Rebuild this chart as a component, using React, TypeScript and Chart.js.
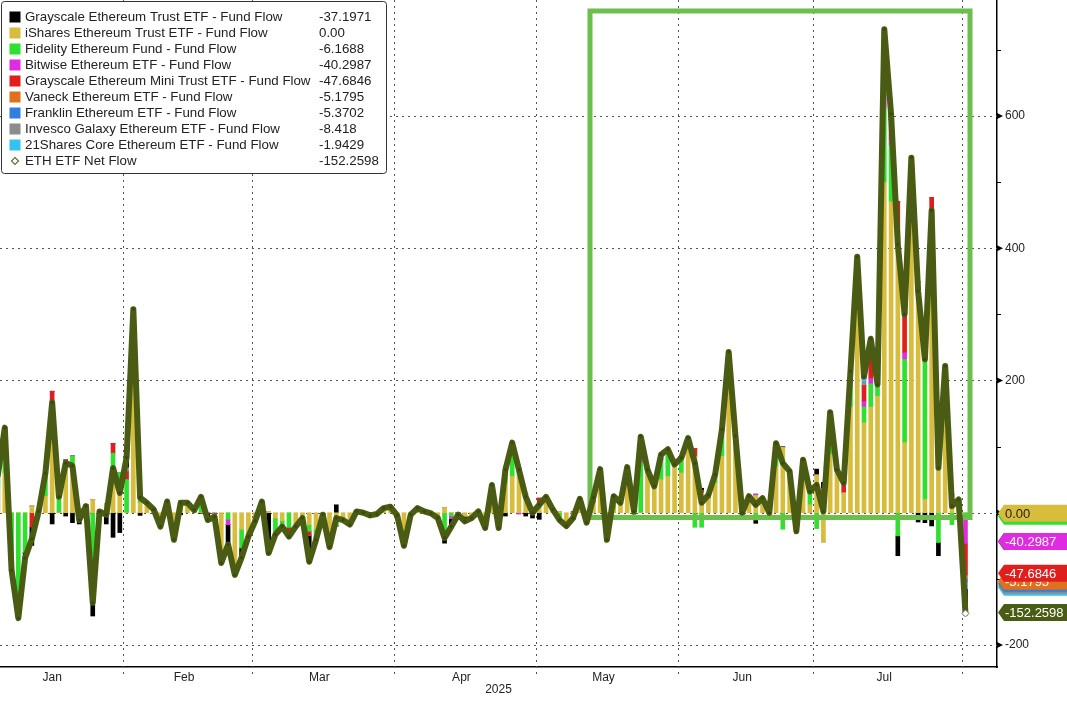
import React, { useEffect, useRef } from "react";
import { Chart, registerables } from "chart.js";

Chart.register(...registerables);
Chart.defaults.font.family = "'Liberation Sans', Arial, sans-serif";

// ---- Trading days (Jan 2, 2025 = day 0; series start on Jan 3 = day 1) ----
const janDays = [2, 3, 6, 7, 8, 10, 13, 14, 15, 16, 17, 21, 22, 23, 24, 27, 28, 29, 30, 31];
const febDays = [3, 4, 5, 6, 7, 10, 11, 12, 13, 14, 18, 19, 20, 21, 24, 25, 26, 27, 28];
const marDays = [3, 4, 5, 6, 7, 10, 11, 12, 13, 14, 17, 18, 19, 20, 21, 24, 25, 26, 27, 28, 31];
const aprDays = [1, 2, 3, 4, 7, 8, 9, 10, 11, 14, 15, 16, 17, 21, 22, 23, 24, 25, 28, 29, 30];
const mayDays = [1, 2, 5, 6, 7, 8, 9, 12, 13, 14, 15, 16, 19, 20, 21, 22, 23, 27, 28, 29, 30];
const junDays = [2, 3, 4, 5, 6, 9, 10, 11, 12, 13, 16, 17, 18, 20, 23, 24, 25, 26, 27, 30];
const julDays = [1, 2, 3, 7, 8, 9, 10, 11, 14, 15, 16, 17, 18, 21, 22, 23, 24, 25, 28, 29, 30, 31];
const augDays = [1];
const monthNames = ["Jan", "Feb", "Mar", "Apr", "May", "Jun", "Jul", "Aug"];
const monthDayLists = [janDays, febDays, marDays, aprDays, mayDays, junDays, julDays, augDays];
const yearLabel = "2025";
const yTickValues = [-200, 0, 200, 400, 600];
const yMinorTickValues = [-100, 100, 300, 500, 700];

// ---- Fund flows, US$ m, Jan 3 .. Aug 1 ----
const ethaFlow = [
  40, 60, 0, 0, 0, 10, 2, 25, 110, 0, 70, 70, 6, 12, 20, 0, 14, 60, 50,
  0, 276.2, 15, 15, 5, -15, 12, -20, 18, 15, 4, 0, 0, 0, -55, 0, -85, -25, -36,
  -13, 2, 2, -8, -12, 0, -21, -8, -18, -25, -3, -40, -12, -11, -10, 2, 0, -4, -2, 7, 9,
  -4, -25, -3, 7, 2, -1, -8, 8, 0, 0, -5, -8, 0, -10, 12, -13, 45, 55, 62, 29, 8,
  12, 20, 5, 2, -20, -10, 16, -10, 15, 50, 0, 6, 15, 69, 12, 0, 60, 40, 50, 55, 73,
  60, 113, 85, 30, 22, 45, 85, 200, 110, 8, 25, 26, 22, 6, 70, 99, 63, -12, 80, 12,
  57, -44, 88, 65, 30, 160, 308, 136, 160, 176, 499.2, 470, 400, 106, 448, 349, 20, 456, 133, 220, 28, 5,
  0,
];
const fethFlow = [
  14.9, 45, -80, -147.7, -60, 0, 0, 34.8, 50, 24, 0, 16, 0, 0, -70, 2, 0, 30, 10,
  50, 21, 12, 0, 0, 0, 5, -15, 0, 0, 0, 25, 0, 0, 0, -10, -9, -28, 0,
  0, 0, 0, -25, -9, -22, 0, 0, -10, -16, 0, -12, -8, 0, -8, 0, 0, 0, 0, 0, 0,
  0, -10, 0, 0, 0, 0, 0, -40, -5, 0, 0, 0, 0, -13, 30, 0, 13, 40, 5, 0, 0,
  0, 0, 0, -13, 0, 0, 0, 0, 0, 16, -15, 19, 0, 0, -10, 76, 5, 0, 30, 35, 0,
  23, 0, -22, -22, 0, 13, 30, 35, 6, 0, 0, -11, 0, 0, 35, -25, 0, 0, 0, 20,
  -24, 20, 45, 0, 0, 31, 60, 24, 35, 18, 113.3, 85, -35, 126, 89, 0, 210, 0, -45, 0, -18, 5,
  -6.1688,
];
const ethwFlow = [
  0, 8, 0, 0, 0, 0, 0, 0, 8, 0, 0, 0, 0, 0, 0, 0, 0, 0, 0,
  0, 4, 0, 0, 0, 0, 0, 0, 0, 0, 0, 0, 0, -3, -10, -8, 0, 0, 0,
  0, 0, 0, 0, 0, 0, 0, 0, 0, 0, 0, 0, 0, 0, 0, 0, 0, 0, 0, 0, 0,
  0, 0, 0, 0, 0, 0, 0, 0, -4, 0, 0, 0, 2, 0, 0, 0, 0, 4, -2, 0, 0,
  0, 0, 0, 0, 0, 0, 0, 0, 0, 0, 0, 0, 0, 0, 0, 6, 0, 0, 0, 0, 0,
  0, 0, 0, 0, 0, 0, 8, 5, 0, 0, 0, 2, 0, 0, 0, 0, 0, 0, 0, 0,
  0, 5, 5, 0, 0, 10, 8, 8, 8, 0, 18.6, 10, 0, 10, 0, 0, 12, 0, 0, 0, 0, 0,
  -40.2987,
];
const miniFlow = [
  0, 10, 0, 0, 0, -22, 0, 0, 15.7, 0, 10, 0, 0, 0, -26.2, 0, 0, 15, 0,
  12, 6.6, 0, 0, 0, 0, 0, 0, 0, 0, 0, 0, 0, -3, 0, 0, 0, 0, 0,
  0, 8, 0, 0, 0, -14, 0, 0, -6, 0, 0, 0, 0, 0, 0, 0, 0, 0, 0, 0, 0,
  0, 0, 0, 0, 0, 0, 0, 0, 0, 0, 0, 0, 0, 0, 0, 0, 12, 7, 0, 0, 0,
  10, 4, 0, 0, 0, 2, 5, 0, 8, 0, 0, 0, 0, 0, 0, 23, 0, 0, 8, 6, 0,
  0, 0, 12, 3, 5, 0, 3, 3, 0, 0, 0, 0, 0, 0, 0, 0, 0, 0, 0, 0,
  0, 12, 14, 0, 15, 13, 11, 24, 55, 0, 41.2, 30, 71, 58, 0, 0, 5, 21, 0, 0, 0, 0,
  -47.6846,
];
const ethvFlow = [
  0, 5.7, 0, 0, 0, 0, 0, 0, 0, 0, 0, 0, 0, 0, 0, 0, 0, 0, 0,
  0, 0, 0, 0, 0, 0, 0, 0, 0, 0, 0, 0, 0, 0, 0, 0, 0, 0, 0,
  0, 0, 0, 0, 0, 0, 0, 0, 0, 0, 0, 0, 0, 0, 0, 0, 0, 0, 0, 0, 0,
  0, 0, 0, 0, 0, 0, 0, 0, 0, 0, 0, 0, 0, 0, 0, 0, 0, 0, 0, 0, 0,
  0, 0, 0, 0, 0, 0, 0, 0, 0, 0, 0, 0, 0, 0, 0, 0, 0, 0, 0, 0, 0,
  0, 0, 0, 0, 0, 0, 0, 0, 0, 0, 0, 0, 0, -6, 0, 0, 0, 0, 0, 0,
  0, 0, 0, 0, 0, 0, 0, 0, 0, 0, 15.6, 0, 0, 0, 0, 0, 0, 0, 0, 0, 0, 0,
  -5.1795,
];
const ezetFlow = [
  0, 0, 0, 0, 0, 0, 0, 0, 0, 0, 0, 0, 0, 0, 0, 0, 0, 0, 0,
  0, 0, 0, 0, 0, 0, 0, 0, 0, 0, 0, 0, 0, 0, 0, 0, 0, 0, 0,
  0, 0, 0, 0, 0, 0, 0, 0, 0, 0, 0, 0, 0, 0, 0, 0, 0, 0, 0, 0, 0,
  0, 0, 0, 0, 0, 0, 0, 0, 0, 0, 0, 0, 0, 0, 0, 0, 0, 0, 0, 0, 0,
  0, 0, 0, 0, 0, 0, 0, 0, 0, 0, 0, 0, 0, 0, 0, 0, 0, 0, 0, 0, 0,
  0, 0, 0, 0, 0, 0, 0, 0, 0, 0, 0, 0, 0, 0, 0, 0, 0, 0, 0, 0,
  0, 0, 0, 0, 0, 0, 0, 0, 0, 0, 4, 0, 0, 0, 0, 0, 0, 0, 0, 0, 0, 0,
  -5.3702,
];
const qethFlow = [
  0, 0, 0, 0, 0, 0, 0, 0, 0, 0, 0, 0, 0, 0, 0, 0, 0, 0, 0,
  6, 0, 0, 0, 0, 0, 0, 0, 0, 0, 0, 0, 0, 0, 0, 0, 0, 0, 0,
  0, 0, 0, 0, 0, 0, 0, 0, 0, 0, 0, 0, 0, 0, 0, 0, 0, 0, 0, 0, 0,
  0, 0, 0, 0, 0, 0, 0, 0, 0, 0, 0, 0, 0, 0, 0, 0, 0, 0, 0, 0, 0,
  0, 0, 0, 0, 0, 0, 0, 0, 0, 0, 0, 0, 0, 0, 0, 0, 0, 0, 0, 0, 0,
  0, 0, 0, 0, 0, 0, 0, 0, 0, 0, 0, 0, 0, 0, 0, 0, 0, 0, 0, 0,
  0, 0, 0, 0, 0, 0, 0, 6, 0, 0, 10.5, 0, 0, 0, 0, 0, 0, 0, 0, 0, 0, 0,
  -8.418,
];
const cethFlow = [
  0, 0, 0, 0, 0, 0, 0, 0, 0, 0, 0, 0, 0, 0, 0, 0, 0, 0, 0,
  0, 0, 0, 0, 0, 0, 0, 0, 0, 0, 0, 0, 0, 0, 0, 0, 0, 0, 0,
  0, 0, 0, 0, 0, 0, 0, 0, 0, 0, 0, 0, 0, 0, 0, 0, 0, 0, 0, 0, 0,
  0, 0, 0, 0, 0, 0, 0, 0, 0, 0, 0, 0, 0, 0, 0, 0, 0, 0, 0, 0, 0,
  0, 0, 0, 0, 0, 0, 0, 0, 0, 0, 0, 0, 0, 0, 0, 0, 0, 0, 0, 0, 0,
  0, 0, 0, 0, 0, 0, 0, 0, 0, 0, 0, 0, 0, 0, 0, 0, 0, 0, 0, 0,
  0, 0, 0, 0, 0, 0, 0, 4, 0, 0, 4.2, 0, 0, 0, 0, 0, 0, 0, 0, 2, 0, 0,
  -1.9429,
];
const etheFlow = [
  4, 0, -6.8, -11.7, -8.4, -27.4, 0, 0, -17, 0, -5, -15, -17, -2, -60, 0, -17, -37.2, -30,
  15.5, 0, -4, 0, 0, -6, 0, -6, -3, 0, 0, -1, -11, 0, -11, -30, 0, -15, 0,
  0, 7, -63, 0, 0, 0, 0, 0, -40, 0, 0, 0, 12, 0, 0, 0, 0, 0, 0, 0, 0,
  0, -15, 0, 0, 0, 0, 0, -6, -12, -3, -8, 0, 0, 0, 0, -10, -5, 0, 0, -5, -8,
  -10, 0, 0, 0, 0, 0, 0, -5, 0, 0, -26, 0, 0, 0, 0, 10, 0, 0, 0, 0, 0,
  0, 0, 0, 4, 0, 0, 0, 0, 0, -8, 0, -5, 0, 0, 0, 1, 0, -16, 0, 0,
  9, 9, 0, 0, 0, 0, 0, 4, 5, 0, 24.4, 8, -30, 0, 0, -14, -15, -20, -20, 0, 0, 10,
  -37.1971,
];
const netFlow = [
  58.9, 128.7, -86.8, -159.4, -68.4, -39.4, 2, 59.8, 166.7, 24, 75, 71, -11, 10, -136.2, 2, -3, 67.8, 30,
  83.5, 307.8, 23, 15, 5, -21, 17, -41, 15, 15, 4, 24, -11, -6, -76, -48, -94, -68, -36,
  -13, 17, -61, -33, -21, -36, -21, -8, -74, -41, -3, -52, -8, -11, -18, 2, 0, -4, -2, 7, 9,
  -4, -50, -3, 7, 2, -1, -8, -38, -21, -3, -13, -8, 2, -23, 42, -23, 65, 106, 65, 24, 0,
  12, 24, 5, -11, -20, -8, 21, -15, 23, 66, -41, 25, 15, 69, 2, 115, 65, 40, 88, 96, 73,
  83, 113, 75, 15, 27, 58, 126, 243, 116, 0, 25, 12, 22, 0, 105, 75, 63, -28, 80, 32,
  42, 2, 152, 65, 45, 214, 387, 206, 263, 194, 731, 603, 406, 300, 537, 335, 232, 457, 68, 222, 10, 20,
  -152.2598,
];

// ---- styling ----
const COLORS = {
  ethe: "#000000",
  etha: "#d7bd3b",
  feth: "#2fe02f",
  ethw: "#e02ce0",
  mini: "#e01e1e",
  ethv: "#e0701c",
  ezet: "#2f7ee0",
  qeth: "#8c8c8c",
  ceth: "#36c2f0",
  net: "#4a5c14",
  box: "#6cbf4c",
};

const seriesDefs = [
  { key: "ethe", name: "Grayscale Ethereum Trust ETF - Fund Flow", data: etheFlow, color: COLORS.ethe },
  { key: "etha", name: "iShares Ethereum Trust ETF - Fund Flow", data: ethaFlow, color: COLORS.etha },
  { key: "feth", name: "Fidelity Ethereum Fund - Fund Flow", data: fethFlow, color: COLORS.feth },
  { key: "ethw", name: "Bitwise Ethereum ETF - Fund Flow", data: ethwFlow, color: COLORS.ethw },
  { key: "mini", name: "Grayscale Ethereum Mini Trust ETF - Fund Flow", data: miniFlow, color: COLORS.mini },
  { key: "ethv", name: "Vaneck Ethereum ETF - Fund Flow", data: ethvFlow, color: COLORS.ethv },
  { key: "ezet", name: "Franklin Ethereum ETF - Fund Flow", data: ezetFlow, color: COLORS.ezet },
  { key: "qeth", name: "Invesco Galaxy Ethereum ETF - Fund Flow", data: qethFlow, color: COLORS.qeth },
  { key: "ceth", name: "21Shares Core Ethereum ETF - Fund Flow", data: cethFlow, color: COLORS.ceth },
];
const stackOrder = ["etha", "feth", "ethw", "mini", "ethv", "ezet", "qeth", "ceth", "ethe"];
const netName = "ETH ETF Net Flow";

const fmt = (v: number) => (v === 0 ? "0.00" : String(v));
const last = (a: number[]) => a[a.length - 1];

// month geometry in trading-day units
const monthStarts: number[] = [];
{
  let acc = 0;
  for (const d of monthDayLists) {
    monthStarts.push(acc);
    acc += d.length;
  }
}
const monthBoundaries = monthStarts.slice(1).map((s) => s - 0.5);
const monthCenters = monthNames.slice(0, 7).map((_, i) => (monthStarts[i] + monthStarts[i + 1]) / 2 - 1);

const X_MIN = 1.29;
const X_MAX = 148.66;
const Y_MIN = -233.3;
const Y_MAX = 775.4;
const highlight = { x0: 88.5, x1: 144.67, y0: -7.2, y1: 758.8 };

const FONT = "'Liberation Sans', Arial, sans-serif";

function drawTag(ctx: CanvasRenderingContext2D, yc: number, bg: string, text: string, fg: string) {
  const tip = 998;
  const bodyL = 1004;
  const h = 17;
  ctx.beginPath();
  ctx.moveTo(tip, yc);
  ctx.lineTo(bodyL, yc - h / 2);
  ctx.lineTo(1068, yc - h / 2);
  ctx.lineTo(1068, yc + h / 2);
  ctx.lineTo(bodyL, yc + h / 2);
  ctx.closePath();
  ctx.fillStyle = bg;
  ctx.fill();
  if (text) {
    ctx.fillStyle = fg;
    ctx.font = `13px ${FONT}`;
    ctx.textAlign = "left";
    ctx.textBaseline = "middle";
    ctx.fillText(text, 1005, yc + 1);
  }
}

const overlayPlugin = {
  id: "overlay",
  beforeDatasetsDraw(chart: any) {
    const { ctx, chartArea: a, scales } = chart;
    const x = scales.x;
    const y = scales.y;
    ctx.save();
    ctx.strokeStyle = "#555";
    ctx.lineWidth = 1;
    ctx.setLineDash([2, 4]);
    for (const v of yTickValues) {
      const py = Math.round(y.getPixelForValue(v)) + 0.5;
      ctx.beginPath();
      ctx.moveTo(a.left, py);
      ctx.lineTo(a.right, py);
      ctx.stroke();
    }
    for (const b of monthBoundaries) {
      const px = Math.round(x.getPixelForValue(b)) + 0.5;
      ctx.beginPath();
      ctx.moveTo(px, a.top);
      ctx.lineTo(px, a.bottom + 7);
      ctx.stroke();
    }
    ctx.restore();
  },
  beforeDatasetDraw(chart: any, args: any) {
    if (args.meta.type !== "line") return;
    const { ctx, scales } = chart;
    const x = scales.x;
    const y = scales.y;
    const l = x.getPixelForValue(highlight.x0);
    const r = x.getPixelForValue(highlight.x1);
    const t = y.getPixelForValue(highlight.y1);
    const b = y.getPixelForValue(highlight.y0);
    ctx.save();
    ctx.strokeStyle = COLORS.box;
    ctx.lineWidth = 5;
    ctx.lineJoin = "miter";
    ctx.strokeRect(l, t, r - l, b - t);
    ctx.restore();
  },
  afterDraw(chart: any) {
    const { ctx, chartArea: a, scales } = chart;
    const y = scales.y;
    ctx.save();
    // right axis markers
    ctx.fillStyle = "#000";
    for (const v of yTickValues) {
      const py = y.getPixelForValue(v);
      ctx.beginPath();
      ctx.moveTo(a.right, py - 3);
      ctx.lineTo(a.right + 6, py);
      ctx.lineTo(a.right, py + 3);
      ctx.closePath();
      ctx.fill();
    }
    ctx.strokeStyle = "#000";
    ctx.lineWidth = 1;
    for (const v of yMinorTickValues) {
      const py = Math.round(y.getPixelForValue(v)) + 0.5;
      ctx.beginPath();
      ctx.moveTo(a.right, py);
      ctx.lineTo(a.right + 4, py);
      ctx.stroke();
    }

    // last-value tags
    const p0 = y.getPixelForValue(last(ethaFlow));
    drawTag(ctx, p0 + 3.5, COLORS.feth, "", "#fff");
    drawTag(ctx, p0 + 0.5, COLORS.etha, fmt(last(ethaFlow)), "#222");
    const pw = y.getPixelForValue(last(ethwFlow));
    drawTag(ctx, pw + 2, COLORS.ethe, "", "#fff");
    drawTag(ctx, pw + 2, COLORS.ethw, fmt(last(ethwFlow)), "#fff");
    const pm = y.getPixelForValue(last(miniFlow)) + 29;
    drawTag(ctx, pm + 14, COLORS.ceth, "", "#fff");
    drawTag(ctx, pm + 12, COLORS.qeth, "", "#fff");
    drawTag(ctx, pm + 10, COLORS.ezet, "", "#fff");
    drawTag(ctx, pm + 8, COLORS.ethv, fmt(last(ethvFlow)), "#fff");
    drawTag(ctx, pm, COLORS.mini, fmt(last(miniFlow)), "#fff");
    const pn = y.getPixelForValue(last(netFlow));
    drawTag(ctx, pn - 1, COLORS.net, fmt(last(netFlow)), "#fff");

    // legend box
    const bx = 1.5, by = 1.5, bw = 385, bh = 172, rr = 3;
    ctx.beginPath();
    ctx.moveTo(bx + rr, by);
    ctx.lineTo(bx + bw - rr, by);
    ctx.quadraticCurveTo(bx + bw, by, bx + bw, by + rr);
    ctx.lineTo(bx + bw, by + bh - rr);
    ctx.quadraticCurveTo(bx + bw, by + bh, bx + bw - rr, by + bh);
    ctx.lineTo(bx + rr, by + bh);
    ctx.quadraticCurveTo(bx, by + bh, bx, by + bh - rr);
    ctx.lineTo(bx, by + rr);
    ctx.quadraticCurveTo(bx, by, bx + rr, by);
    ctx.closePath();
    ctx.fillStyle = "#fff";
    ctx.fill();
    ctx.strokeStyle = "#333";
    ctx.lineWidth = 1;
    ctx.stroke();

    ctx.font = `13.3px ${FONT}`;
    ctx.textBaseline = "middle";
    ctx.textAlign = "left";
    const rows = [
      ...seriesDefs.map((s) => ({ name: s.name, color: s.color, value: last(s.data), diamond: false })),
      { name: netName, color: COLORS.net, value: last(netFlow), diamond: true },
    ];
    rows.forEach((row, k) => {
      const yc = 17 + 16 * k;
      if (row.diamond) {
        ctx.beginPath();
        ctx.moveTo(15, yc - 3.5);
        ctx.lineTo(18.5, yc);
        ctx.lineTo(15, yc + 3.5);
        ctx.lineTo(11.5, yc);
        ctx.closePath();
        ctx.strokeStyle = "#6a6a40";
        ctx.lineWidth = 1.2;
        ctx.stroke();
      } else {
        ctx.fillStyle = row.color;
        ctx.fillRect(9.5, yc - 5.5, 11, 11);
      }
      ctx.fillStyle = "#222";
      ctx.fillText(row.name, 25, yc + 0.5);
      ctx.fillText(fmt(row.value), 319, yc + 0.5);
    });
    ctx.restore();
  },
};

export default function App() {
  const canvasRef = useRef<HTMLCanvasElement | null>(null);

  useEffect(() => {
    const canvas = canvasRef.current;
    if (!canvas) return;

    const byKey: Record<string, any> = {};
    seriesDefs.forEach((s) => (byKey[s.key] = s));

    const barDatasets = stackOrder.map((k) => {
      const s = byKey[k];
      return {
        type: "bar" as const,
        label: s.name,
        data: s.data.map((v: number, i: number) => ({ x: i + 1, y: v })),
        backgroundColor: s.color,
        borderWidth: 0,
        barThickness: 4,
        stack: "flows",
        order: 0,
      };
    });

    const n = netFlow.length;
    const lineDataset = {
      type: "line" as const,
      label: netName,
      data: netFlow.map((v, i) => ({ x: i + 1, y: v })),
      borderColor: COLORS.net,
      borderWidth: 6,
      borderJoinStyle: "round",
      borderCapStyle: "round",
      tension: 0,
      stack: "net",
      order: -1,
      pointStyle: "rectRot",
      pointRadius: netFlow.map((_, i) => (i === n - 1 ? 3.5 : 2)),
      pointBackgroundColor: netFlow.map((_, i) => (i === n - 1 ? "#ffffff" : "#3b4a0c")),
      pointBorderColor: netFlow.map((_, i) => (i === n - 1 ? "#888" : "#3b4a0c")),
      pointBorderWidth: netFlow.map((_, i) => (i === n - 1 ? 1 : 0)),
    };

    const tickFont = { family: FONT, size: 12 };

    const chart = new Chart(canvas, {
      type: "bar",
      data: { datasets: [...barDatasets, lineDataset] as any },
      options: {
        responsive: false,
        animation: false,
        events: [],
        layout: { padding: 0, autoPadding: false },
        plugins: { legend: { display: false }, tooltip: { enabled: false } },
        scales: {
          x: {
            type: "linear",
            min: X_MIN,
            max: X_MAX,
            stacked: true,
            offset: false,
            grid: { display: false, drawTicks: true, tickLength: 3 },
            border: { display: true, color: "#000", width: 1.5 },
            afterBuildTicks: (s: any) => {
              s.ticks = monthCenters.map((v) => ({ value: v }));
            },
            ticks: {
              autoSkip: false,
              maxRotation: 0,
              padding: 0,
              color: "#222",
              font: tickFont,
              callback: (_v: any, i: number) => monthNames[i],
            },
            title: {
              display: true,
              text: yearLabel,
              color: "#222",
              font: tickFont,
              padding: { top: 0, bottom: 4 },
            },
            afterFit: (s: any) => {
              s.height = 34;
              s.paddingLeft = 0;
              s.paddingRight = 0;
            },
          } as any,
          y: {
            type: "linear",
            position: "right",
            min: Y_MIN,
            max: Y_MAX,
            stacked: true,
            grid: { display: false, drawTicks: false },
            border: { display: true, color: "#000", width: 1.5 },
            afterBuildTicks: (s: any) => {
              s.ticks = yTickValues.map((v) => ({ value: v }));
            },
            ticks: {
              padding: 8,
              color: "#222",
              font: tickFont,
              callback: (v: any) => (v === 0 ? "" : String(v)),
            },
            afterFit: (s: any) => {
              s.width = 70;
              s.paddingTop = 0;
              s.paddingBottom = 0;
            },
          } as any,
        },
      },
      plugins: [overlayPlugin],
    });

    return () => chart.destroy();
  }, []);

  return (
    <div style={{ position: "fixed", left: 0, top: 0, width: 1067, height: 701, background: "#fff" }}>
      <canvas ref={canvasRef} width={1067} height={701} style={{ display: "block", width: 1067, height: 701 }} />
    </div>
  );
}
